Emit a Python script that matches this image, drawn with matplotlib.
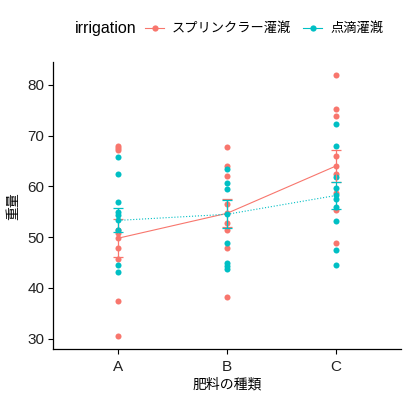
import matplotlib
matplotlib.use("Agg")
import matplotlib.pyplot as plt
from matplotlib.lines import Line2D

plt.rcParams['font.family'] = ['Liberation Sans', 'Noto Sans CJK JP', 'DejaVu Sans']

categories = ['A', 'B', 'C']
groups = ['スプリンクラー灌漑', '点滴灌漑']
colors = ['#F8766D', '#00BFC4']
linestyles = ['-', ':']

sprinkler_A = [68.0, 67.6, 67.2, 51.4, 50.9, 47.8, 45.6, 37.4, 30.5]
sprinkler_B = [67.7, 64.1, 62.1, 56.6, 52.7, 51.4, 47.9, 38.2]
sprinkler_C = [81.9, 75.2, 73.8, 65.9, 62.5, 58.6, 55.3, 48.8]
drip_A = [65.8, 62.4, 57.0, 55.0, 54.4, 51.5, 44.5, 43.2]
drip_B = [63.4, 60.7, 59.5, 48.8, 44.9, 44.4, 43.7]
drip_C = [72.3, 67.9, 61.8, 59.6, 57.6, 56.0, 53.1, 47.5, 44.6]

sprinkler_mean = [49.8, 54.7, 64.0]
sprinkler_se = [3.75, 2.75, 3.2]
drip_mean = [53.3, 54.5, 58.2]
drip_se = [2.35, 2.75, 2.7]

points = [[sprinkler_A, sprinkler_B, sprinkler_C], [drip_A, drip_B, drip_C]]
means = [sprinkler_mean, drip_mean]
ses = [sprinkler_se, drip_se]

fig = plt.figure(figsize=(4.09, 4.01), dpi=100)
ax = fig.add_axes([53.3/409, 1-349.3/401, (401-53.3)/409, (349.3-62)/401])

xs = list(range(len(categories)))
for g in range(2):
    for i, vals in enumerate(points[g]):
        ax.scatter([xs[i]]*len(vals), vals, s=19, color=colors[g], zorder=2, linewidths=0)
for g in range(2):
    ax.errorbar(xs, means[g], yerr=ses[g], fmt='none', ecolor=colors[g],
                elinewidth=0.9, capsize=3.8, capthick=0.9, zorder=3)
    ax.plot(xs, means[g], color=colors[g], linestyle=linestyles[g], linewidth=0.8,
            marker='o', markersize=4.3, markeredgewidth=0, zorder=4)

ax.set_xlim(-0.6, 2.6)
ax.set_ylim(27.9, 84.5)
ax.set_xticks(xs)
ax.set_xticklabels(categories)
ax.set_yticks([30, 40, 50, 60, 70, 80])
for s in ['top', 'right']:
    ax.spines[s].set_visible(False)
for s in ['left', 'bottom']:
    ax.spines[s].set_linewidth(0.9)
ax.tick_params(axis='both', labelsize=11, length=3.5, width=0.8, colors='black',
               labelcolor='#222222')
ax.tick_params(axis='x', pad=4)
ax.tick_params(axis='y', pad=3)
ax.set_xlabel('肥料の種類', fontsize=10, labelpad=3)
ax.set_ylabel('重量', fontsize=10, labelpad=5)

fig.text(75/409, 1-29/401, 'irrigation', fontsize=11.5, va='center', ha='left')
handles = [Line2D([0], [0], color=colors[g], linestyle='-', linewidth=0.8,
                  marker='o', markersize=4.5, markeredgewidth=0) for g in range(2)]
fig.legend(handles, groups, loc='center left', bbox_to_anchor=(145/409, 1-29/401),
           ncol=2, frameon=False, fontsize=9.5, handlelength=1.45, handletextpad=0.6,
           columnspacing=0.9, borderaxespad=0, borderpad=0)

fig.savefig('out.png', dpi=100)
